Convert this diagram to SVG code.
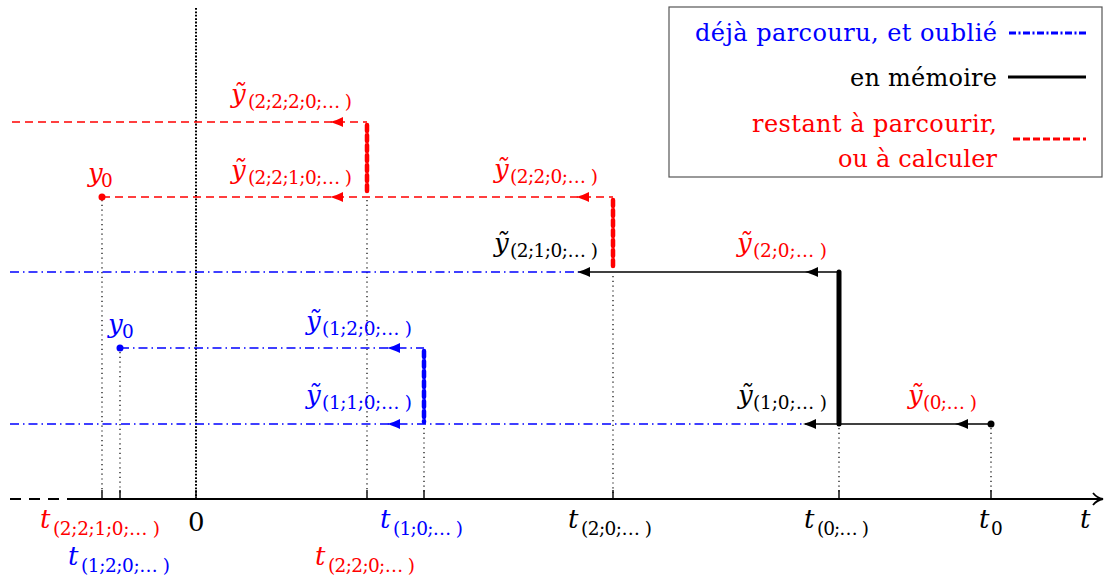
<svg xmlns="http://www.w3.org/2000/svg" xmlns:xlink="http://www.w3.org/1999/xlink" width="1104" height="578" viewBox="0 0 1104 578" font-family="DejaVu Serif, serif">
<style>
text{font-family:"DejaVu Serif",serif}
.m{font-style:italic;font-size:26px}
.s{font-size:18.5px}
.n{font-size:26px}
.lg{font-size:24px}
.r{fill:#ff0000}.b{fill:#0000ff}.k{fill:#000}
.dash{stroke:#ff0000;stroke-width:1.6;stroke-dasharray:8 5;fill:none}
.dd{stroke:#0000ff;stroke-width:1.6;stroke-dasharray:9 4 1.5 4;fill:none}
.sol{stroke:#000;stroke-width:1.6;fill:none}
.dot{stroke:#000;stroke-width:1.2;stroke-dasharray:1.2 3.6;fill:none}
.tr{stroke:#ff0000;stroke-width:4.5;stroke-dasharray:6 4;stroke-linecap:round;fill:none}
.tb{stroke:#0000ff;stroke-width:4.5;stroke-dasharray:6 4;stroke-linecap:round;fill:none}
</style>
<defs>
<path id="ah" d="M0,0 C4,-1 9,-3 13,-5 L13,5 C9,3 4,1 0,0 Z"/>
</defs>
<rect width="1104" height="578" fill="#fff"/>

<g id="connectors">
<line x1="196" y1="8" x2="196" y2="499" stroke="#000" stroke-width="2" stroke-dasharray="1.8 1.6"/>
<line class="dot" x1="102" y1="200" x2="102" y2="493"/>
<line class="dot" x1="120" y1="352" x2="120" y2="493"/>
<line class="dot" x1="367" y1="200" x2="367" y2="493"/>
<line class="dot" x1="424" y1="428" x2="424" y2="493"/>
<line class="dot" x1="613" y1="276" x2="613" y2="493"/>
<line class="dot" x1="839" y1="428" x2="839" y2="493"/>
<line class="dot" x1="991" y1="428" x2="991" y2="493"/>
<line x1="10" y1="499" x2="75" y2="499" stroke="#000" stroke-width="2" stroke-dasharray="11 8"/>
<line x1="75" y1="499" x2="1100" y2="499" stroke="#000" stroke-width="2"/>
<path d="M1093,493 Q1097,498 1103,499 Q1097,500 1093,505" fill="none" stroke="#000" stroke-width="1.8"/>
<g stroke="#000" stroke-width="1.4">
<line x1="102" y1="490" x2="102" y2="499"/><line x1="120" y1="490" x2="120" y2="499"/>
<line x1="196" y1="490" x2="196" y2="499"/><line x1="367" y1="490" x2="367" y2="499"/>
<line x1="424" y1="490" x2="424" y2="499"/><line x1="613" y1="490" x2="613" y2="499"/>
<line x1="839" y1="490" x2="839" y2="499"/><line x1="991" y1="490" x2="991" y2="499"/>
</g>
<line class="dash" x1="12" y1="122" x2="367" y2="122"/>
<line class="dash" x1="102" y1="197" x2="613" y2="197"/>
<line class="tr" x1="367" y1="125" x2="367" y2="195"/>
<line class="tr" x1="613" y1="200" x2="613" y2="270"/>
<line class="dd" x1="10" y1="272" x2="580" y2="272"/>
<line class="dd" x1="120" y1="348" x2="424" y2="348"/>
<line class="dd" x1="10" y1="424" x2="805" y2="424"/>
<line class="tb" x1="424" y1="351" x2="424" y2="422"/>
<line class="sol" x1="580" y1="272" x2="839" y2="272"/>
<line class="sol" x1="805" y1="424" x2="991" y2="424"/>
<line x1="839" y1="272" x2="839" y2="424" stroke="#000" stroke-width="5" stroke-linecap="round"/>
<use xlink:href="#ah" x="330" y="122" fill="#ff0000"/>
<use xlink:href="#ah" x="330" y="197" fill="#ff0000"/>
<use xlink:href="#ah" x="576" y="197" fill="#ff0000"/>
<use xlink:href="#ah" x="577" y="272" fill="#000"/>
<use xlink:href="#ah" x="805" y="272" fill="#000"/>
<use xlink:href="#ah" x="387" y="348" fill="#0000ff"/>
<use xlink:href="#ah" x="387" y="424" fill="#0000ff"/>
<use xlink:href="#ah" x="803" y="424" fill="#000"/>
<use xlink:href="#ah" x="955" y="424" fill="#000"/>
<circle cx="102" cy="197" r="3.5" fill="#ff0000"/>
<circle cx="120" cy="348" r="3.5" fill="#0000ff"/>
<circle cx="991" cy="424" r="3.5" fill="#000"/>
</g>

<g id="legend">
<rect x="669" y="7" width="433" height="170" fill="#fff" stroke="#555" stroke-width="1.2"/>
<text class="lg b" x="997" y="41" text-anchor="end" textLength="302" lengthAdjust="spacing">déjà parcouru, et oublié</text>
<text class="lg k" x="997" y="86" text-anchor="end" textLength="147" lengthAdjust="spacing">en mémoire</text>
<text class="lg r" x="997" y="132" text-anchor="end" textLength="245" lengthAdjust="spacing">restant à parcourir,</text>
<text class="lg r" x="997" y="167" text-anchor="end" textLength="159" lengthAdjust="spacing">ou à calculer</text>
<line x1="1009" y1="33" x2="1086" y2="33" stroke="#0000ff" stroke-width="3" stroke-dasharray="7 2.5 2 2.5"/>
<line x1="1008" y1="77" x2="1086" y2="77" stroke="#000" stroke-width="3"/>
<line x1="1013" y1="139" x2="1086" y2="139" stroke="#ff0000" stroke-width="3" stroke-dasharray="7 3"/>
</g>

<g id="y2220" class="r"><text class="m" x="231" y="103">ỹ</text><text class="s" x="248" y="108" textLength="104">(2;2;2;0;… )</text></g>
<g id="y2210" class="r"><text class="m" x="231" y="179">ỹ</text><text class="s" x="248" y="184" textLength="104">(2;2;1;0;… )</text></g>
<g id="y0red" class="r"><text class="m" x="88" y="182">y</text><text class="s" x="101" y="187">0</text></g>
<g id="y220" class="r"><text class="m" x="494" y="178">ỹ</text><text class="s" x="510" y="183" textLength="88">(2;2;0;… )</text></g>
<g id="y210" class="k"><text class="m" x="494" y="252">ỹ</text><text class="s" x="510" y="257" textLength="88">(2;1;0;… )</text></g>
<g id="y20" class="r"><text class="m" x="737" y="252">ỹ</text><text class="s" x="753" y="257" textLength="74">(2;0;… )</text></g>
<g id="y0blue" class="b"><text class="m" x="108" y="333">y</text><text class="s" x="122" y="338">0</text></g>
<g id="y120" class="b"><text class="m" x="306" y="330">ỹ</text><text class="s" x="322" y="335" textLength="90">(1;2;0;… )</text></g>
<g id="y110" class="b"><text class="m" x="306" y="404">ỹ</text><text class="s" x="322" y="409" textLength="90">(1;1;0;… )</text></g>
<g id="y10" class="k"><text class="m" x="738" y="404">ỹ</text><text class="s" x="753" y="409" textLength="74">(1;0;… )</text></g>
<g id="y00" class="r"><text class="m" x="908" y="404">ỹ</text><text class="s" x="923" y="409" textLength="54">(0;… )</text></g>

<g id="t2210" class="r"><text class="m" x="40" y="528">t</text><text class="s" x="53" y="535" textLength="107">(2;2;1;0;… )</text></g>
<g id="zero" class="k"><text class="n" x="188" y="531">0</text></g>
<g id="t10" class="b"><text class="m" x="380" y="528">t</text><text class="s" x="393" y="535" textLength="70">(1;0;… )</text></g>
<g id="t120" class="b"><text class="m" x="68" y="565">t</text><text class="s" x="81" y="572" textLength="89">(1;2;0;… )</text></g>
<g id="t220" class="r"><text class="m" x="315" y="565">t</text><text class="s" x="328" y="572" textLength="87">(2;2;0;… )</text></g>
<g id="t20" class="k"><text class="m" x="568" y="528">t</text><text class="s" x="581" y="535" textLength="71">(2;0;… )</text></g>
<g id="t0x" class="k"><text class="m" x="804" y="528">t</text><text class="s" x="817" y="535" textLength="52">(0;… )</text></g>
<g id="t0" class="k"><text class="m" x="979" y="528">t</text><text class="s" x="991" y="535">0</text></g>
<g id="taxis" class="k"><text class="m" x="1080" y="528">t</text></g>
</svg>
